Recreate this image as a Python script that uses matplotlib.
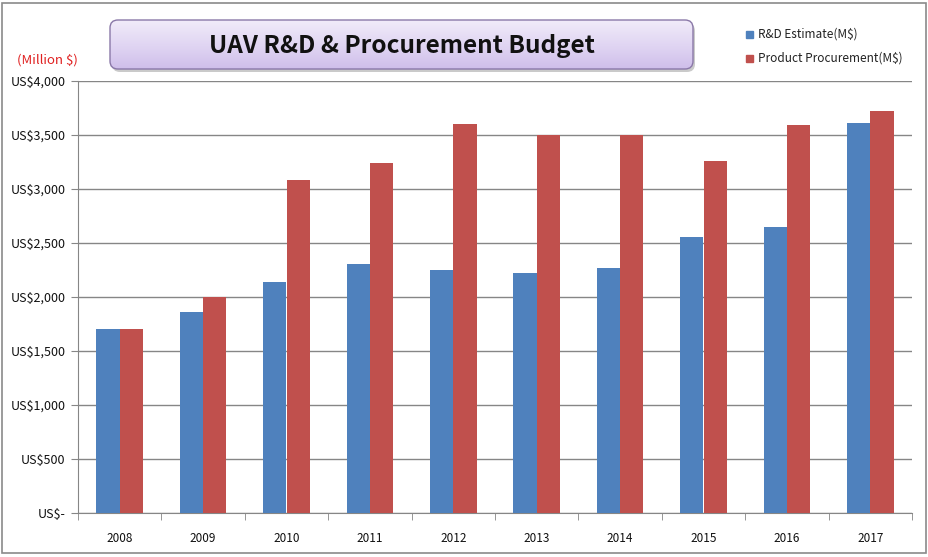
import matplotlib
matplotlib.use("Agg")
import matplotlib.pyplot as plt
import numpy as np
from matplotlib.patches import FancyBboxPatch, Rectangle
from matplotlib.ticker import FuncFormatter
from matplotlib.colors import LinearSegmentedColormap

years = ["2008", "2009", "2010", "2011", "2012", "2013", "2014", "2015", "2016", "2017"]
rd_estimate = [1700, 1864, 2142, 2308, 2253, 2225, 2271, 2558, 2651, 3614]
procurement = [1706, 2000, 3086, 3244, 3598, 3503, 3503, 3262, 3589, 3725]
series_names = ["R&D Estimate(M$)", "Product Procurement(M$)"]
yticks = [0, 500, 1000, 1500, 2000, 2500, 3000, 3500, 4000]

plt.rcParams['font.family'] = ['Noto Sans CJK KR', 'DejaVu Sans']

W, H = 929, 557
fig = plt.figure(figsize=(W / 100, H / 100), dpi=100)

ax = fig.add_axes([78 / W, 1 - 513 / H, (912 - 78) / W, (513 - 81) / H])
x = np.arange(len(years))
bw = 0.28
ax.bar(x - bw / 2, rd_estimate, bw, color="#4F81BD", zorder=3)
ax.bar(x + bw / 2, procurement, bw, color="#C0504D", zorder=3)

ax.set_xlim(-0.5, len(years) - 0.5)
ax.set_ylim(0, 4000)
ax.set_yticks(yticks)
ax.yaxis.set_major_formatter(FuncFormatter(lambda v, p: "US$-" if v == 0 else f"US${int(v):,}"))
ax.grid(axis="y", color="#868686", lw=1, zorder=0)
ax.set_xticks(x)
ax.set_xticklabels(years)
ax.set_xticks(np.arange(-0.5, len(years)), minor=True)
ax.tick_params(axis="x", which="major", length=0, pad=14, labelsize=8.5, labelcolor="#111111")
ax.tick_params(axis="x", which="minor", length=5, color="#868686", direction="out")
ax.tick_params(axis="y", length=5, color="#868686", labelsize=9, pad=4, direction="out",
               labelcolor="#111111")
for s in ["top", "right"]:
    ax.spines[s].set_visible(False)
for s in ["left", "bottom"]:
    ax.spines[s].set_color("#868686")

# overlay in pixel coordinates
ov = fig.add_axes([0, 0, 1, 1], zorder=5)
ov.set_xlim(0, W)
ov.set_ylim(H, 0)
ov.set_axis_off()
ov.patch.set_alpha(0)

# outer border
ov.add_patch(Rectangle((2, 3), 924, 550, fill=False, edgecolor="#8a8a8a", lw=1.2))

# title box
bx, by, bww, bhh = 110, 20, 583, 49
rs = 8
ov.add_patch(FancyBboxPatch((bx + 2, by + 3), bww, bhh,
                            boxstyle=f"round,pad=0,rounding_size={rs}",
                            facecolor="#a8a8a8", edgecolor="none", alpha=0.6, zorder=1))
grad = np.linspace(0, 1, 100).reshape(-1, 1)
cmap = LinearSegmentedColormap.from_list("lav", ["#f1ebf9", "#e1d6f3", "#cfbeea"])
im = ov.imshow(grad, aspect="auto", cmap=cmap, extent=[bx, bx + bww, by + bhh, by],
               origin="upper", zorder=2)
clip = FancyBboxPatch((bx, by), bww, bhh, boxstyle=f"round,pad=0,rounding_size={rs}",
                      facecolor="none", edgecolor="none")
ov.add_patch(clip)
im.set_clip_path(clip)
ov.add_patch(FancyBboxPatch((bx, by), bww, bhh, boxstyle=f"round,pad=0,rounding_size={rs}",
                            facecolor="none", edgecolor="#8a78a8", lw=1, zorder=3))
ov.set_xlim(0, W)
ov.set_ylim(H, 0)
ov.text(bx + bww / 2, by + bhh / 2 + 1, "UAV R&D & Procurement Budget",
        ha="center", va="center", fontsize=17.5, fontweight="bold", color="#111111", zorder=4)

ov.text(47, 60, "(Million $)", ha="center", va="center", fontsize=9.5, color="#e02020")

# legend
colors = ["#4F81BD", "#C0504D"]
for i, (name, c) in enumerate(zip(series_names, colors)):
    yy = 34 + i * 24
    ov.add_patch(Rectangle((746, yy - 3.5), 7, 7, color=c))
    ov.text(758, yy, name, ha="left", va="center", fontsize=8.5, color="#222222")

fig.savefig("out.png", dpi=100)
